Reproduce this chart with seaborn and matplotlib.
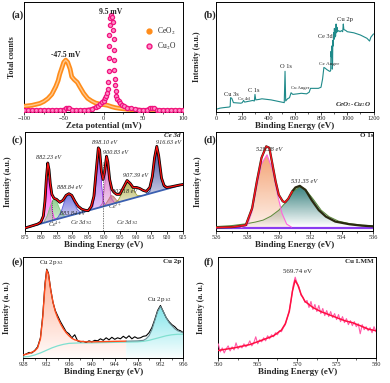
import numpy as np
import pandas as pd
import matplotlib
matplotlib.use("Agg")
import matplotlib.pyplot as plt
import seaborn as sns
from matplotlib.patches import Polygon
from matplotlib.colors import to_rgb
from matplotlib.lines import Line2D

# ---------------- data ----------------
# (a) zeta potential
ceo2_mv = [-100, -95, -90, -85, -80, -75, -70, -65, -60, -57, -55, -52, -50, -47.5, -45, -42, -40, -37, -33,
           -30, -25, -20, -15, -10, -5, 0, 5, 10, 15, 20, 30, 40, 50, 60, 70, 80, 90, 100]
ceo2_cnt = [0.05, 0.055, 0.06, 0.07, 0.08, 0.1, 0.13, 0.175, 0.256, 0.32, 0.386, 0.46, 0.51, 0.533, 0.51, 0.44,
            0.36, 0.33, 0.30, 0.256, 0.186, 0.133, 0.105, 0.084, 0.074, 0.067, 0.06, 0.046, 0.035, 0.028, 0.018,
            0.01, 0.007, 0.005, 0.005, 0.005, 0.005, 0.005]
cu2o_mv = [-100, -95, -90, -85, -80, -75, -70, -65, -60, -55, -50, -47, -45, -43, -40, -35, -30, -25, -20, -15,
           -10, -7, -4, -2, 0, 2, 3.5, 4.5, 5.5, 6, 6.3, 6.6, 6.9, 7.2, 7.6, 8.2, 9.5, 10.8, 11.8, 12.4, 12.8,
           13.1, 13.4, 13.7, 14.1, 14.6, 15.3, 16.3, 17.5, 19, 21, 23.5, 26, 30, 35, 40, 45, 50, 55, 58, 61, 64,
           67, 70, 75, 80, 85, 90, 95, 100]
cu2o_cnt = [0.01, 0.01, 0.01, 0.01, 0.01, 0.01, 0.01, 0.01, 0.01, 0.012, 0.015, 0.03, 0.035, 0.03, 0.015, 0.01,
            0.01, 0.012, 0.015, 0.022, 0.04, 0.055, 0.075, 0.09, 0.11, 0.135, 0.16, 0.19, 0.23, 0.3, 0.42, 0.55,
            0.68, 0.8, 0.9, 0.97, 1.0, 0.98, 0.93, 0.85, 0.75, 0.64, 0.53, 0.43, 0.34, 0.27, 0.21, 0.16, 0.125,
            0.1, 0.08, 0.062, 0.05, 0.037, 0.027, 0.02, 0.015, 0.012, 0.015, 0.03, 0.035, 0.028, 0.015, 0.01,
            0.008, 0.008, 0.007, 0.007, 0.007, 0.007]

# (b) survey
survey_ev = [0, 30, 60, 100, 108, 111, 120, 133, 190, 200, 210, 218, 260, 280, 292, 297, 303, 330, 350, 420, 480,
             520, 526, 531, 545, 560, 572, 585, 620, 650, 690, 710, 720, 780, 800, 812, 822, 830, 845, 865, 870,
             874, 876, 879, 881, 884, 886, 888, 890, 893, 896, 899, 902, 905, 908, 911, 915, 918, 922, 926, 935,
             945, 955, 965, 970, 974, 990, 1000, 1050, 1100, 1150, 1170, 1180, 1200]
survey_int = [0.024, 0.035, 0.04, 0.045, 0.05, 0.13, 0.125, 0.085, 0.08, 0.085, 0.105, 0.09, 0.1, 0.105, 0.1,
              0.16, 0.11, 0.115, 0.12, 0.11, 0.095, 0.085, 0.37, 0.1, 0.12, 0.13, 0.175, 0.16, 0.165, 0.17, 0.165,
              0.18, 0.215, 0.215, 0.225, 0.3, 0.405, 0.4, 0.385, 0.37, 0.37, 0.38, 0.55, 0.5, 0.6, 0.52, 0.39,
              0.42, 0.65, 0.6, 0.72, 0.66, 0.76, 0.68, 0.75, 0.69, 0.8, 0.72, 0.77, 0.73, 0.74, 0.73, 0.74, 0.73,
              0.8, 0.75, 0.74, 0.73, 0.72, 0.7, 0.67, 0.645, 0.68, 0.71]

# (c) Ce 3d
ce_ev = [875, 877, 879, 880, 880.8, 881.3, 881.8, 882.2, 882.6, 883, 883.5, 884.2, 885, 886, 887, 888, 888.9,
         889.8, 890.8, 891.8, 893, 894, 895, 896, 896.8, 897.5, 898.2, 898.6, 899.2, 899.7, 900.2, 900.8, 901.2,
         901.8, 902.5, 903.2, 904, 905, 906, 907.3, 908.3, 909.2, 910.3, 911.3, 912.4, 913.4, 914.5, 915.3, 916,
         916.7, 917.3, 918.2, 919, 919.8, 921, 922.5, 924, 925]
ce_env = [0.03, 0.05, 0.07, 0.09, 0.15, 0.3, 0.55, 0.687, 0.62, 0.48, 0.37, 0.33, 0.32, 0.29, 0.31, 0.36, 0.377,
          0.36, 0.3, 0.25, 0.22, 0.21, 0.205, 0.25, 0.35, 0.6, 0.84, 0.82, 0.6, 0.52, 0.6, 0.755, 0.7, 0.52, 0.42,
          0.39, 0.37, 0.37, 0.43, 0.51, 0.48, 0.44, 0.44, 0.43, 0.41, 0.40, 0.44, 0.55, 0.74, 0.855, 0.76, 0.535,
          0.46, 0.44, 0.445, 0.455, 0.465, 0.47]
ce_bg_ev = [875, 925]
ce_bg = [0.03, 0.47]
ce_comp = {
    "882.23": ([879.5, 880.5, 881.2, 881.7, 882.0, 882.3, 882.6, 883.0, 883.5, 884.2, 885.0],
               [0.070, 0.10, 0.2, 0.38, 0.5, 0.535, 0.5, 0.38, 0.22, 0.13, 0.118]),
    "883.84": ([880, 881, 882, 883, 883.8, 884.3, 885, 886, 887, 888],
               [0.074, 0.09, 0.15, 0.25, 0.31, 0.32, 0.3, 0.22, 0.16, 0.144]),
    "888.84": ([884.5, 885.5, 886.5, 887.5, 888.3, 888.9, 889.5, 890.5, 891.5, 892.5, 893.5],
               [0.114, 0.14, 0.2, 0.3, 0.36, 0.377, 0.36, 0.29, 0.22, 0.19, 0.193]),
    "898.10": ([895.5, 896.5, 897.2, 897.7, 898.1, 898.4, 898.8, 899.3, 899.8, 900.5, 901.5],
               [0.21, 0.25, 0.38, 0.6, 0.78, 0.8, 0.7, 0.45, 0.3, 0.26, 0.263]),
    "902.18": ([899.5, 900.5, 901.5, 902.2, 903, 904, 905],
               [0.245, 0.27, 0.32, 0.36, 0.35, 0.31, 0.294]),
    "900.83": ([898.5, 899.5, 900.2, 900.6, 900.9, 901.2, 901.7, 902.3, 903.2, 904.5],
               [0.236, 0.28, 0.45, 0.65, 0.74, 0.68, 0.48, 0.33, 0.29, 0.29]),
    "907.39": ([903, 904.5, 905.5, 906.5, 907.4, 908.3, 909.3, 910.5, 912],
               [0.276, 0.31, 0.37, 0.46, 0.5, 0.47, 0.41, 0.36, 0.356]),
    "916.63": ([913, 914.5, 915.3, 916, 916.6, 917.2, 918, 918.8, 919.8, 921],
               [0.364, 0.40, 0.52, 0.72, 0.855, 0.78, 0.56, 0.45, 0.43, 0.435]),
}
ce_colors = {"882.23": "#ff22ee", "883.84": "#7cc87c", "888.84": "#5a5ad8", "898.10": "#8a2be2",
             "902.18": "#c07a7a", "900.83": "#cc55bb", "907.39": "#a8a83a", "916.63": "#1c2a8c"}

# (d) O 1s
o_ev = [526, 527, 527.5, 527.9, 528.3, 528.6, 528.9, 529.2, 529.4, 529.6, 529.8, 530.0, 530.25, 530.4, 530.6,
        530.85, 531.06, 531.34, 531.7, 532.1, 532.55, 533, 533.6, 534.5, 535.3, 536]
o_env = [0.035, 0.04, 0.05, 0.06, 0.23, 0.5, 0.74, 0.855, 0.84, 0.67, 0.5, 0.365, 0.30, 0.29, 0.325, 0.4, 0.44,
         0.456, 0.415, 0.31, 0.21, 0.145, 0.095, 0.068, 0.054, 0.047]
o1_ev = [527.6, 528.0, 528.3, 528.6, 528.9, 529.25, 529.6, 529.9, 530.2, 530.5, 530.8]
o1_int = [0.035, 0.06, 0.2, 0.45, 0.68, 0.77, 0.62, 0.38, 0.18, 0.07, 0.04]
o2_ev = [526, 527, 528, 528.5, 529, 529.5, 530, 530.5, 531, 531.35, 531.7, 532.2, 532.7, 533.2, 533.8, 534.5,
         535.3, 536]
o2_int = [0.045, 0.055, 0.075, 0.09, 0.11, 0.15, 0.21, 0.3, 0.41, 0.45, 0.42, 0.32, 0.21, 0.145, 0.1, 0.075,
          0.06, 0.052]
o_bg = [0.035, 0.035]
o_bg_ev = [526, 536]

# (e) Cu 2p
cu_ev = [928.0, 928.5, 929.0, 929.5, 930.0, 930.5, 931.0, 931.4, 931.8, 932.1, 932.4, 932.8, 933.2, 933.6, 934.0,
         934.5, 935.0, 935.5, 936.0, 936.5, 937.0, 937.5, 938.0, 938.5, 939.0, 939.5, 940.0, 940.5, 941.0, 941.5,
         942.0, 942.5, 943.0, 943.5, 944.0, 944.5, 945.0, 945.5, 946.0, 946.5, 947.0, 947.5, 948.0, 948.5, 949.0,
         949.5, 950.0, 950.5, 951.0, 951.5, 952.0, 952.5, 953.0, 953.5, 954.0, 954.5, 955.0, 955.5, 956.0]
cu_raw = [0.028, 0.04, 0.055, 0.05, 0.075, 0.11, 0.2, 0.42, 0.74, 0.88, 0.84, 0.68, 0.55, 0.47, 0.42, 0.36, 0.31,
          0.26, 0.24, 0.2, 0.23, 0.17, 0.16, 0.165, 0.155, 0.17, 0.16, 0.175, 0.17, 0.19, 0.175, 0.2, 0.18, 0.205,
          0.185, 0.2, 0.19, 0.215, 0.195, 0.22, 0.19, 0.21, 0.195, 0.2, 0.215, 0.22, 0.25, 0.3, 0.38, 0.47, 0.52,
          0.46, 0.4, 0.36, 0.33, 0.31, 0.28, 0.27, 0.25]
cu_fit_ev = [928, 929, 930, 930.5, 931, 931.4, 931.8, 932.1, 932.4, 932.8, 933.2, 933.6, 934, 934.5, 935, 935.5,
             936, 936.5, 937, 938, 939, 940, 942, 944, 946, 948, 949, 949.5, 950, 950.5, 951, 951.5, 952, 952.5,
             953, 953.5, 954, 954.5, 955, 956]
cu_fit = [0.03, 0.045, 0.07, 0.1, 0.19, 0.4, 0.72, 0.87, 0.83, 0.67, 0.55, 0.46, 0.4, 0.34, 0.29, 0.25, 0.22,
          0.195, 0.18, 0.165, 0.16, 0.16, 0.162, 0.165, 0.167, 0.17, 0.175, 0.19, 0.22, 0.28, 0.37, 0.46, 0.51,
          0.46, 0.4, 0.35, 0.32, 0.29, 0.27, 0.25]
cu_bg_ev = [928, 929, 930, 931, 932, 933, 934, 935, 936, 938, 940, 944, 948, 949, 950, 951, 952, 953, 954, 955, 956]
cu_bg = [0.01, 0.015, 0.03, 0.05, 0.075, 0.1, 0.12, 0.135, 0.145, 0.15, 0.15, 0.155, 0.16, 0.165, 0.175, 0.19,
         0.205, 0.22, 0.23, 0.235, 0.235]

# (f) Cu LMM
lmm_ev = [560.0, 560.25, 560.5, 560.75, 561.0, 561.25, 561.5, 561.75, 562.0, 562.25, 562.5, 562.75, 563.0, 563.25,
          563.5, 563.75, 564.0, 564.25, 564.5, 564.75, 565.0, 565.25, 565.5, 565.75, 566.0, 566.25, 566.5, 566.75,
          567.0, 567.25, 567.5, 567.75, 568.0, 568.25, 568.5, 568.75, 569.0, 569.25, 569.5, 569.75, 570.0, 570.25,
          570.5, 570.75, 571.0, 571.25, 571.5, 571.75, 572.0, 572.25, 572.5, 572.75, 573.0, 573.25, 573.5, 573.75,
          574.0, 574.25, 574.5, 574.75, 575.0, 575.25, 575.5, 575.75, 576.0, 576.25, 576.5, 576.75, 577.0, 577.25,
          577.5, 577.75, 578.0, 578.25, 578.5, 578.75, 579.0, 579.25, 579.5, 579.75, 580.0]
lmm_raw = [0.14, 0.06, 0.10, 0.05, 0.09, 0.12, 0.07, 0.11, 0.08, 0.15, 0.09, 0.12, 0.10, 0.14, 0.11, 0.13, 0.17,
           0.12, 0.15, 0.21, 0.14, 0.18, 0.16, 0.20, 0.17, 0.22, 0.19, 0.23, 0.21, 0.25, 0.23, 0.27, 0.26, 0.30,
           0.33, 0.40, 0.47, 0.58, 0.72, 0.80, 0.74, 0.70, 0.62, 0.60, 0.55, 0.57, 0.50, 0.56, 0.48, 0.53, 0.46,
           0.52, 0.44, 0.49, 0.42, 0.47, 0.41, 0.46, 0.40, 0.44, 0.38, 0.43, 0.36, 0.41, 0.35, 0.39, 0.33, 0.37,
           0.32, 0.36, 0.31, 0.34, 0.24, 0.33, 0.28, 0.31, 0.27, 0.30, 0.25, 0.31, 0.26]
lmm_fit_ev = [560, 562, 564, 566, 567, 568, 568.5, 569, 569.4, 569.74, 570.1, 570.5, 571, 572, 573, 574, 575, 576,
              577, 578, 579, 580]
lmm_fit = [0.075, 0.1, 0.133, 0.19, 0.22, 0.276, 0.34, 0.46, 0.66, 0.77, 0.72, 0.63, 0.56, 0.5, 0.46, 0.43, 0.4,
           0.37, 0.35, 0.32, 0.286, 0.27]

# ---------------- style ----------------
sns.set_theme(style="ticks")
plt.rcParams["font.family"] = ["Liberation Serif", "DejaVu Serif"]
plt.rcParams["mathtext.fontset"] = "stix"

W, H = 390, 383
fig = plt.figure(figsize=(3.9, 3.83), dpi=100)


def add_ax(l, t, r, b):
    return fig.add_axes([l / W, 1 - b / H, (r - l) / W, (b - t) / H])


def style(ax, xlabel, ylabel, xticks, xlim, ylim, ylab_px, box, minor=None):
    ax.set_xlim(xlim)
    ax.set_ylim(ylim)
    ax.set_xticks(xticks)
    if minor is not None:
        ax.set_xticks(minor, minor=True)
    ax.set_yticks([])
    ax.tick_params(axis="x", which="major", labelsize=4.6, length=2, width=0.6, pad=1, direction="out")
    ax.tick_params(axis="x", which="minor", length=1.2, width=0.5, direction="out")
    ax.set_xlabel(xlabel, fontsize=6.5, fontweight="bold", labelpad=0.5)
    ax.set_ylabel(ylabel, fontsize=5.8, fontweight="bold")
    l, r = box
    ax.yaxis.set_label_coords((ylab_px - l) / (r - l), 0.5)
    for s in ax.spines.values():
        s.set_visible(True)
        s.set_linewidth(0.7)
        s.set_color("black")


def grad(ax, xs, ys, color, a_top=0.85, a_bot=0.05, z=2):
    xs = list(xs)
    ys = list(ys)
    poly = Polygon(np.column_stack([xs, ys]), closed=True, transform=ax.transData,
                   facecolor="none", edgecolor="none")
    ax.add_patch(poly)
    img = np.zeros((64, 2, 4))
    img[..., :3] = to_rgb(color)
    img[..., 3] = np.linspace(a_bot, a_top, 64)[:, None]
    im = ax.imshow(img, extent=[min(xs), max(xs), min(ys), max(ys)], origin="lower",
                   aspect="auto", zorder=z, interpolation="bilinear")
    im.set_clip_path(poly)


def ptxt(x, y, s, **kw):
    fig.text(x / W, 1 - y / H, s, **kw)


# ---------------- (a) ----------------
box_a = (24, 183)
ax = add_ax(24, 2, 183, 112)
dfa = pd.DataFrame({"mv": ceo2_mv, "cnt": ceo2_cnt})
sns.lineplot(data=dfa, x="mv", y="cnt", ax=ax, color="#ff8c1a", lw=3.4, zorder=3)
sns.lineplot(data=dfa, x="mv", y="cnt", ax=ax, color="#ffc98f", lw=1.0, zorder=3)
cu_arr = np.array(cu2o_cnt)
ax.plot(cu2o_mv, np.where(cu_arr < 0.14, cu_arr, np.nan), color="#f0147f", lw=2.6, zorder=4)
dfb = pd.DataFrame({"mv": cu2o_mv, "cnt": cu2o_cnt})
sns.scatterplot(data=dfb, x="mv", y="cnt", ax=ax, marker="o", s=9, color="#ff8cc6",
                edgecolor="#f0147f", linewidth=0.9, zorder=5)
ax.text(-47.5, 0.59, "-47.5 mV", fontsize=5.5, fontweight="bold", ha="center", va="center")
ax.text(9.5, 1.04, "9.5 mV", fontsize=5.5, fontweight="bold", ha="center", va="center", zorder=6)
hs = [Line2D([], [], marker="o", ls="none", ms=3.5, mfc="#ff8c1a", mec="#ff8c1a"),
      Line2D([], [], marker="o", ls="none", ms=3.5, mfc="#ff8cc6", mec="#f0147f")]
ax.legend(hs, ["CeO$_2$", "Cu$_2$O"], loc="upper right", bbox_to_anchor=(1.0, 0.85), frameon=False,
          fontsize=5.5, handlelength=0.8, handletextpad=0.6, labelspacing=0.6)
style(ax, "Zeta potential (mV)", "Total counts", [-100, -50, 0, 50, 100], (-100, 100), (-0.01, 1.14),
      16, box_a, minor=[-75, -25, 25, 75])
ptxt(11, 15, "(a)", fontsize=7.5, fontweight="bold", va="center")

# ---------------- (b) ----------------
box_b = (216, 373.5)
ax = add_ax(216, 2, 373.5, 112)
sns.lineplot(x=survey_ev, y=survey_int, ax=ax, color="#1f8a8a", lw=0.8, sort=False)
for x, y, s, fs in [(115, 0.14, "Cu 3s", 4.6), (215, 0.1, "Ce 4d", 3.6), (290, 0.17, "C 1s", 4.6),
                    (530, 0.39, "O 1s", 4.6), (640, 0.2, "Cu Auger", 3.4), (860, 0.42, "Ce Auger", 3.8),
                    (830, 0.66, "Ce 3d", 4.4), (985, 0.82, "Cu 2p", 4.8)]:
    ax.text(x, y, s, fontsize=fs, ha="center", va="bottom", color="#222222")
ax.text(0.985, 0.03, "CeO$_2$-Cu$_2$O", transform=ax.transAxes, fontsize=5, fontweight="bold",
        fontstyle="italic", ha="right", va="bottom")
style(ax, "Binding Energy (eV)", "Intensity (a.u.)", [0, 200, 400, 600, 800, 1000, 1200], (0, 1200),
      (0, 1.0), 201, box_b, minor=list(range(100, 1200, 200)))
ptxt(203, 15, "(b)", fontsize=7.5, fontweight="bold", va="center")

# ---------------- (c) ----------------
box_c = (25, 183)
ax = add_ax(25, 132, 183, 231)
for key, (xs, ys) in ce_comp.items():
    c = ce_colors[key]
    grad(ax, xs, ys, c, a_top=0.85, a_bot=0.25, z=2)
    ax.plot(xs, ys, color=c, lw=0.6, zorder=3)
sns.lineplot(x=ce_bg_ev, y=ce_bg, ax=ax, color="#3a5fb0", lw=1.3, zorder=4)
sns.lineplot(x=ce_ev, y=ce_env, ax=ax, color="black", lw=2.0, zorder=5)
sns.lineplot(x=ce_ev, y=ce_env, ax=ax, color="#ff1010", lw=0.9, zorder=6)
ax.plot([883.6, 883.6], [0.09, 0.32], ls=(0, (1.5, 1.5)), color="#444444", lw=0.5, zorder=7)
ax.plot([899.6, 899.6], [0.0, 0.7], ls=(0, (2, 1.5)), color="#444444", lw=0.5, zorder=7)
for x, y, s in [(882.3, 0.72, "882.23 eV"), (889.2, 0.41, "888.84 eV"), (890.2, 0.15, "883.84 eV"),
                (900.2, 0.87, "898.10 eV"), (903.8, 0.77, "900.83 eV"), (910.0, 0.54, "907.39 eV"),
                (906.4, 0.37, "902.18 eV"), (920.3, 0.87, "916.63 eV")]:
    ax.text(x, y, s, fontsize=4.4, ha="center", va="bottom", fontstyle="italic", zorder=8)
ax.text(884.5, 0.02, "Ce$^{4+}$", fontsize=4.4, ha="center", va="bottom", fontstyle="italic", color="#333333")
ax.text(903.4, 0.2, "Ce$^{3+}$", fontsize=4.4, ha="center", va="bottom", fontstyle="italic", color="#333333")
ax.text(892.8, 0.04, "Ce 3d$_{5/2}$", fontsize=4.6, ha="center", va="bottom", fontstyle="italic", color="#333333")
ax.text(907.5, 0.04, "Ce 3d$_{3/2}$", fontsize=4.6, ha="center", va="bottom", fontstyle="italic", color="#333333")
ax.text(0.985, 0.985, "Ce 3d", transform=ax.transAxes, fontsize=5, fontweight="bold", fontstyle="italic",
        ha="right", va="top")
style(ax, "Binding Energy (eV)", "Intensity (a.u.)", list(range(875, 926, 5)), (875, 925), (0, 1.0), 12,
      box_c)
ax.tick_params(axis="x", labelsize=4.0)
ptxt(11, 140, "(c)", fontsize=7.5, fontweight="bold", va="center")

# ---------------- (d) ----------------
box_d = (216, 373)
ax = add_ax(216, 132, 373, 231)
grad(ax, o2_ev, o2_int, "#2e7b78", a_top=0.95, a_bot=0.0, z=2)
grad(ax, o1_ev, o1_int, "#f4a070", a_top=0.95, a_bot=0.15, z=3)
sns.lineplot(x=o_bg_ev, y=o_bg, ax=ax, color="#8a3cf0", lw=1.6, zorder=4)
sns.lineplot(x=o2_ev, y=o2_int, ax=ax, color="#5e8a3a", lw=0.7, zorder=5)
sns.lineplot(x=o1_ev, y=o1_int, ax=ax, color="#ff66dd", lw=0.8, zorder=5)
sns.lineplot(x=o_ev, y=o_env, ax=ax, color="#2a2a10", lw=1.6, zorder=6)
o_arr = np.array(o_ev)
ax.plot(o_ev, np.where(o_arr <= 531.0, np.array(o_env), np.nan), color="#ff1020", lw=1.0, zorder=7)
ax.text(529.4, 0.8, "529.28 eV", fontsize=4.6, ha="center", va="bottom", fontstyle="italic", zorder=8)
ax.text(531.6, 0.47, "531.35 eV", fontsize=4.6, ha="center", va="bottom", fontstyle="italic", zorder=8)
ax.text(1.0, 0.985, "O 1s", transform=ax.transAxes, fontsize=5, fontweight="bold", ha="right", va="top")
style(ax, "Binding Energy (eV)", "Intensity (a.u.)", [526, 528, 530, 532, 534, 536], (526, 536), (0, 1.0),
      202, box_d, minor=[527, 529, 531, 533, 535])
ptxt(203, 140, "(d)", fontsize=7.5, fontweight="bold", va="center")

# ---------------- (e) ----------------
box_e = (23.3, 183.3)
ax = add_ax(23.3, 257, 183.3, 358)
fx = np.array(cu_fit_ev)
fy = np.array(cu_fit)
m1 = fx <= 946
m2 = fx >= 946
grad(ax, list(fx[m1]) + [946, 928], list(fy[m1]) + [0, 0], "#ff7040", a_top=0.55, a_bot=0.03, z=2)
grad(ax, list(fx[m2]) + [956, 946], list(fy[m2]) + [0, 0], "#40d8e0", a_top=0.65, a_bot=0.03, z=2)
sns.lineplot(x=cu_bg_ev, y=cu_bg, ax=ax, color="#7fe0d0", lw=0.9, zorder=3)
sns.lineplot(x=cu_ev, y=cu_raw, ax=ax, color="black", lw=0.8, zorder=4)
ax.plot(fx[m1], fy[m1], color="#ff4a1a", lw=1.0, zorder=5)
ax.plot(fx[m2], fy[m2], color="#6a8f95", lw=0.8, zorder=5)
ax.text(933.0, 0.9, "Cu 2p$_{3/2}$", fontsize=5, ha="center", va="bottom", zorder=8)
ax.text(951.8, 0.53, "Cu 2p$_{1/2}$", fontsize=5, ha="center", va="bottom", zorder=8)
ax.text(0.985, 0.985, "Cu 2p", transform=ax.transAxes, fontsize=5, fontweight="bold", ha="right", va="top")
style(ax, "Binding Energy (eV)", "Intensity (a. u.)", list(range(928, 957, 4)), (928, 956), (0, 1.0), 10.5,
      box_e, minor=list(range(930, 956, 4)))
ptxt(11, 262, "(e)", fontsize=7.5, fontweight="bold", va="center")

# ---------------- (f) ----------------
box_f = (218.3, 376)
ax = add_ax(218.3, 257, 376, 358)
sns.lineplot(x=lmm_ev, y=lmm_raw, ax=ax, color="#ff5aa8", lw=0.8, zorder=3)
sns.lineplot(x=lmm_fit_ev, y=lmm_fit, ax=ax, color="#ff1040", lw=1.1, zorder=4)
ax.text(570.1, 0.83, "569.74 eV", fontsize=5, ha="center", va="bottom", zorder=8)
ax.text(0.985, 0.985, "Cu LMM", transform=ax.transAxes, fontsize=5, fontweight="bold", ha="right", va="top")
style(ax, "Binding Energy (eV)", "Intensity (a. u.)", [560, 565, 570, 575, 580], (560, 580), (0, 1.0), 205,
      box_f, minor=[562.5, 567.5, 572.5, 577.5])
ptxt(204, 262, "(f)", fontsize=7.5, fontweight="bold", va="center")

fig.savefig("out.png", dpi=100)
